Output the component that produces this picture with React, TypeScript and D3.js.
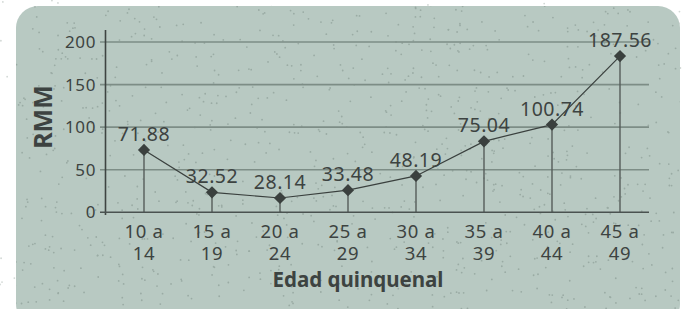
import React from "react";
import * as d3 from "d3";

const categories = ["10 a 14", "15 a 19", "20 a 24", "25 a 29", "30 a 34", "35 a 39", "40 a 44", "45 a 49"];
const plotted = [73.3, 23.5, 16.8, 26.0, 42.7, 83.3, 103.0, 183.5];
const labels = ["71.88", "32.52", "28.14", "33.48", "48.19", "75.04", "100.74", "187.56"];
const yTicks = [0, 50, 100, 150, 200];

const W = 683, H = 309;
const FONT = "'Noto Sans', 'Open Sans', sans-serif";

function dots(seed: number, n: number, w: number, h: number) {
  // deterministic decorative texture
  let s = seed;
  const rnd = () => { s = (s * 16807) % 2147483647; return s / 2147483647; };
  const out: [number, number][] = [];
  for (let i = 0; i < n; i++) out.push([rnd() * w, rnd() * h]);
  return out;
}

export default function App() {
  const x = d3.scalePoint<string>().domain(categories).range([144, 620]);
  const y = d3.scaleLinear().domain([0, 200]).range([212.3, 42]);
  const line = d3.line<number>().x((_, i) => x(categories[i])!).y((d) => y(d));
  const diamond = d3.symbol().type(d3.symbolDiamond2).size(95)()!;
  const bgDots = dots(7, 300, W, H);
  const inDots = dots(13, 1000, W, H);

  return (
    <svg width={W} height={H} style={{ position: "absolute", left: 0, top: 0, background: "#fff" }} fontFamily={FONT}>
      <defs>
        <clipPath id="card"><rect x={16} y={6} width={664} height={320} rx={22} /></clipPath>
      </defs>
      {bgDots.map(([a, b], i) => <circle key={"o" + i} cx={a} cy={b} r={0.9} fill="#d2d8d5" />)}
      <rect x={16} y={6} width={664} height={320} rx={22} fill="#b8c9c2" />
      <g clipPath="url(#card)">
        {inDots.map(([a, b], i) => <circle key={"i" + i} cx={a} cy={b} r={0.9} fill="#9aaba4" />)}
      </g>
      {yTicks.filter((t) => t > 0).map((t) => (
        <line key={t} x1={100} x2={649} y1={y(t)} y2={y(t)} stroke="#7d8d86" strokeWidth={1.6} />
      ))}
      {categories.map((c, i) => (
        <line key={"d" + i} x1={x(c)} x2={x(c)} y1={y(plotted[i])} y2={y(0)} stroke="#555c59" strokeWidth={1.4} />
      ))}
      <line x1={105.5} x2={105.5} y1={30} y2={215} stroke="#3e4442" strokeWidth={1.6} />
      <line x1={100} x2={649} y1={y(0)} y2={y(0)} stroke="#4a5250" strokeWidth={1.6} />
      {yTicks.map((t) => (
        <text key={"t" + t} x={96} y={y(t)} dy="0.36em" textAnchor="end" fontSize={17} fill="#3d4341" letterSpacing={0.6}>{t}</text>
      ))}
      <path d={line(plotted)!} fill="none" stroke="#3a403e" strokeWidth={1.2} />
      {categories.map((c, i) => (
        <path key={"m" + i} d={diamond} transform={`translate(${x(c)},${y(plotted[i])})`} fill="#3a403e" />
      ))}
      {categories.map((c, i) => (
        <text key={"l" + i} x={x(c)} y={y(plotted[i]) - 9} textAnchor="middle" fontSize={19.5} fill="#3d4341" letterSpacing={0.5}>{labels[i]}</text>
      ))}
      {categories.map((c, i) => {
        const parts = c.split(" ");
        return (
          <text key={"c" + i} x={x(c)} textAnchor="middle" fontSize={18.5} fill="#3d4341" letterSpacing={0.6}>
            <tspan x={x(c)} y={237.5}>{parts[0] + " " + parts[1]}</tspan>
            <tspan x={x(c)} y={259.5}>{parts[2]}</tspan>
          </text>
        );
      })}
      <text x={358} y={287} textAnchor="middle" fontSize={20.5} fontWeight="bold" fill="#3d4341">Edad quinquenal</text>
      <text transform="translate(52,117) rotate(-90)" textAnchor="middle" fontSize={25} fontWeight="bold" fill="#3d4341">RMM</text>
    </svg>
  );
}
